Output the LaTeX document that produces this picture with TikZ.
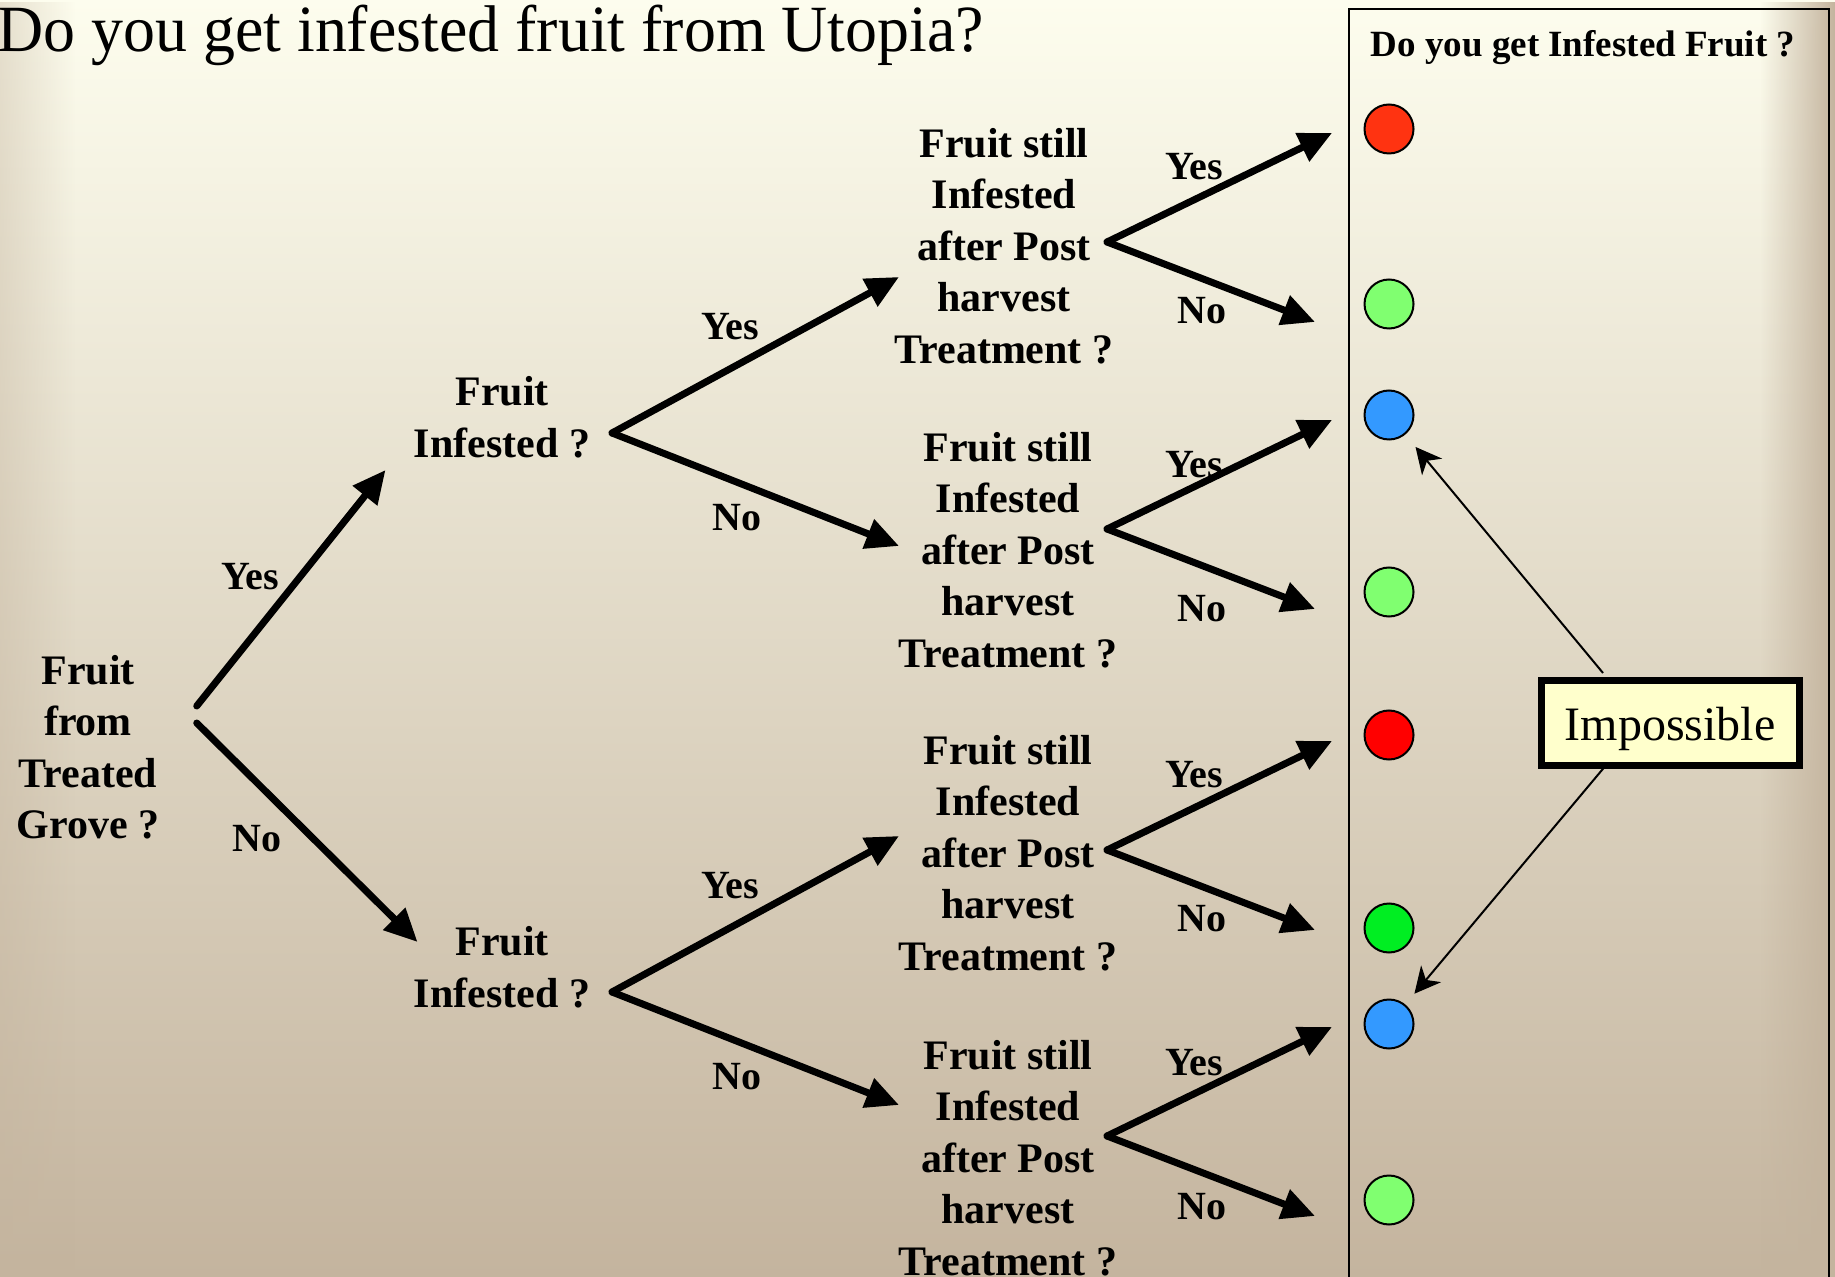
\documentclass[tikz,border=0pt]{standalone}
\usepackage{fontspec}
\setmainfont{Liberation Serif}
\usepackage{graphicx}
\usepackage{tikz}
\usetikzlibrary{positioning}
\usetikzlibrary{arrows.meta}
\usetikzlibrary{fadings}
\definecolor{bgtop}{HTML}{FDFDEE}
\definecolor{bgmid}{HTML}{EDE8D6}
\definecolor{bgbot}{HTML}{C4B49E}
\definecolor{dotred}{HTML}{FF3311}
\definecolor{dotdeep}{HTML}{FF0000}
\definecolor{dotlime}{HTML}{80FF70}
\definecolor{dotgreen}{HTML}{00EE22}
\definecolor{dotblue}{HTML}{3399FF}
\definecolor{impfill}{HTML}{FFFFCC}
\tikzfading[name=fadeleft, left color=transparent!0, right color=transparent!100]
\tikzfading[name=faderight, left color=transparent!100, right color=transparent!0]
\tikzset{question/.style={font=\fontsize{21}{25.75}\selectfont\bfseries,
align=center, inner sep=0pt},
answer/.style={font=\fontsize{20}{24}\selectfont\bfseries, inner sep=0pt},
branch/.style={line width=3.5pt, line cap=round, -{Triangle[length=16.5pt, width=15pt]}},
pointer/.style={line width=1pt, -{Stealth[length=13pt, width=13pt, inset=4pt]}},
dot/.style={circle, draw, line width=1pt, minimum size=24.5pt, inner sep=0pt}}

\begin{document}
\begin{tikzpicture}[x=0.5pt, y=-0.5pt]
% background
\shade[top color=bgtop, middle color=bgmid, bottom color=bgbot] (0,0) rectangle (1835,1277);
\fill[bgbot, opacity=0.4, path fading=fadeleft] (0,0) rectangle (75,1277);
\fill[bgbot, path fading=faderight] (1760,0) rectangle (1835,1277);
\useasboundingbox (0,0) rectangle (1835,1277);

\node[anchor=base west, inner sep=0pt, font=\fontsize{33}{40}\selectfont] (title) at (-3,52)
	{\scalebox{0.968}[1]{Do you get infested fruit from Utopia?}};

% questions
\node[question] (grove) at (88,747) {Fruit\\from\\Treated\\Grove ?};
\node[question] (infA) at (502,417) {Fruit\\Infested ?};
\node[question] (infB) at (502,967) {Fruit\\Infested ?};
\node[question] (postA) at (1004,246) {Fruit still\\Infested\\after Post\\harvest\\Treatment ?};
\node[question] (postB) at (1008,550) {Fruit still\\Infested\\after Post\\harvest\\Treatment ?};
\node[question] (postC) at (1008,853) {Fruit still\\Infested\\after Post\\harvest\\Treatment ?};
\node[question] (postD) at (1008,1158) {Fruit still\\Infested\\after Post\\harvest\\Treatment ?};

% first split
\draw[branch] ([shift={(37,-41)}]grove.east) -- ([shift={(-28,53)}]infA.west);
\draw[branch] ([shift={(37,-24)}]grove.east) -- ([shift={(4,-25)}]infB.west);
\node[answer] (yes0) at (250,577) {Yes};
\node[answer] (no0) at (257,839) {No};

% second split
\foreach \k/\fy in {A/433, B/992} {
	\coordinate (split\k) at (612,\fy);
	\draw[branch] (split\k) -- ++(287,-156);
	\draw[branch] (split\k) -- ++(287,113);
	\node[answer] (yes\k) at ([shift={(118,-106)}]split\k) {Yes};
	\node[answer] (no\k) at ([shift={(125,85)}]split\k) {No};
}

% third split
\foreach \k/\fy/\ty/\ny in {A/242/167/311, B/529/465/609, C/850/775/919, D/1136/1063/1207} {
	\coordinate (fork\k) at (1107,\fy);
	\draw[branch] (fork\k) -- ++(225,-109);
	\draw[branch] (fork\k) -- ++(208,80);
	\node[answer] (yes\k) at (1194,\ty) {Yes};
	\node[answer] (no\k) at (1202,\ny) {No};
}

% answers
\draw[line width=0.8pt] (1349,9) rectangle (1829,1300);
\node[font=\fontsize{18.5}{22}\selectfont\bfseries, inner sep=0pt] (head) at (1583,48) {Do you get Infested Fruit ?};
\foreach \i/\cy/\col in {1/129/dotred, 2/304/dotlime, 3/415/dotblue, 4/592/dotlime,
	5/735/dotdeep, 6/928/dotgreen, 7/1024/dotblue, 8/1200/dotlime}
	\node[dot, fill=\col] (c\i) at (1389,\cy) {};

\node[draw, line width=3.5pt, fill=impfill, minimum width=129pt, minimum height=42.5pt,
	inner sep=0pt, text height=22pt, text depth=5pt,
	font=\fontsize{24}{28}\selectfont] (imp) at (1670,723) {Impossible};
\draw[pointer, shorten >=8pt] ([shift={(-67,-4)}]imp.north) -- (c3);
\draw[pointer, shorten >=7pt] ([shift={(-63,-5)}]imp.south) -- (c7);
\end{tikzpicture}
\end{document}
